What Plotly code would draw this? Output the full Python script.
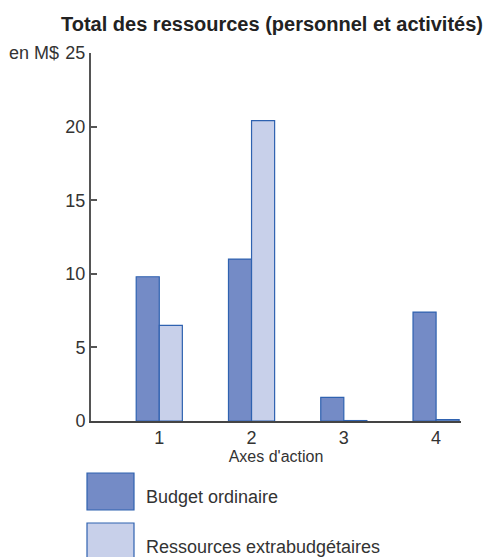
import plotly.graph_objects as go

categories = [1, 2, 3, 4]
budget_ordinaire = [9.8, 11.0, 1.6, 7.4]
ressources_extra = [6.5, 20.4, 0.03, 0.1]
series_names = ["Budget ordinaire", "Ressources extrabudgétaires"]
y_ticks = [0, 5, 10, 15, 20, 25]

FONT = "Liberation Sans"
TXT = "#333333"
BORDER = "#2f62b0"
C1 = "#748bc6"
C2 = "#c8d0ea"

W, H = 489, 557
L, R, T, B = 91, 28, 53, 136
pw, ph = W - L - R, H - T - B

fig = go.Figure()
fig.add_bar(x=categories, y=budget_ordinaire, name=series_names[0],
            marker=dict(color=C1, line=dict(color=BORDER, width=1.2)))
fig.add_bar(x=categories, y=ressources_extra, name=series_names[1],
            marker=dict(color=C2, line=dict(color=BORDER, width=1.2)))

fig.update_layout(
    width=W, height=H,
    margin=dict(l=L, r=R, t=T, b=B),
    paper_bgcolor="white", plot_bgcolor="white",
    barmode="group", bargap=0.5, bargroupgap=0,
    showlegend=False,
    font=dict(family=FONT, color=TXT, size=17),
    title=dict(text="<b>Total des ressources (personnel et activités)</b>",
               x=272 / W, xanchor="center", y=1 - 24 / H, yanchor="middle",
               font=dict(size=20, color="#222222")),
)
fig.update_xaxes(range=[0.26, 4.27], tickmode="array", tickvals=categories,
                 ticktext=[str(c) for c in categories], ticks="",
                 showline=True, linecolor="#444444", linewidth=1.5,
                 showgrid=False, zeroline=False,
                 tickfont=dict(size=18, color=TXT),
                 title=dict(text="Axes d'action", font=dict(size=16, color=TXT), standoff=0))
fig.update_yaxes(range=[0, 25], tickvals=y_ticks, ticks="inside", ticklen=6,
                 tickcolor="#555555", tickwidth=1.5,
                 showline=True, linecolor="#555555", linewidth=2,
                 showgrid=False, zeroline=False,
                 tickfont=dict(size=18, color=TXT))

fig.add_annotation(text="en M$", xref="paper", yref="paper",
                   x=(61 - L) / pw, y=1, xanchor="right", yanchor="middle",
                   showarrow=False, font=dict(size=18, color=TXT))

def px(xp):
    return (xp - L) / pw

def py(yp):
    return (H - B - yp) / ph

legend_boxes = [(473, 510, C1), (523, 560, C2)]
legend_text_y = [497, 547]
for (y0, y1, col), name, ty in zip(legend_boxes, series_names, legend_text_y):
    fig.add_shape(type="rect", xref="paper", yref="paper",
                  x0=px(87), x1=px(134), y0=py(y1), y1=py(y0),
                  fillcolor=col, line=dict(color=BORDER, width=1.2))
    fig.add_annotation(text=name, xref="paper", yref="paper",
                       x=px(144), y=py(ty), xanchor="left", yanchor="middle",
                       showarrow=False, font=dict(size=18, color=TXT))

fig.write_html("out.html")
